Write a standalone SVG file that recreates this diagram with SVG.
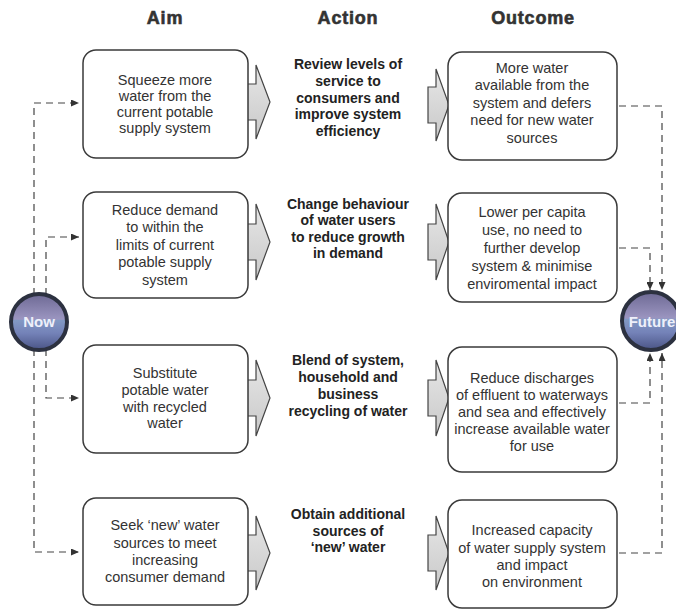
<svg xmlns="http://www.w3.org/2000/svg" width="676" height="610" viewBox="0 0 676 610">
<defs>
<style>
.hdr{font-family:"Liberation Sans",Arial,sans-serif;font-weight:bold;font-size:18px;fill:#333;stroke:#333;stroke-width:0.6;text-anchor:middle;letter-spacing:0.8px}
.box{fill:#fff;stroke:#3a3a3a;stroke-width:1.5}
.t{font-family:"Liberation Sans",Arial,sans-serif;font-size:14.5px;fill:#333;text-anchor:middle}
.a{font-family:"Liberation Sans",Arial,sans-serif;font-weight:bold;font-size:14px;fill:#222;text-anchor:middle}
.arr{fill:url(#ag);stroke:#444;stroke-width:1.2;stroke-linejoin:miter}
.dash{fill:none;stroke:#444;stroke-width:1.2;stroke-dasharray:7 5}
.circ{fill:url(#cg);stroke:#2c3140;stroke-width:4}
.ct{font-family:"Liberation Sans",Arial,sans-serif;font-weight:bold;font-size:15px;fill:#eef0fa;text-anchor:middle}
</style>
<linearGradient id="ag" x1="0" y1="0" x2="0" y2="1">
<stop offset="0" stop-color="#e6e6e6"/>
<stop offset="1" stop-color="#c9c9c9"/>
</linearGradient>
<linearGradient id="cg" x1="0" y1="0" x2="0" y2="1">
<stop offset="0" stop-color="#6d6994"/>
<stop offset="0.45" stop-color="#9b95c0"/>
<stop offset="0.47" stop-color="#8299c4"/>
<stop offset="0.7" stop-color="#7482b8"/>
<stop offset="1" stop-color="#4a5485"/>
</linearGradient>
<marker id="ah" markerWidth="9" markerHeight="7" refX="8" refY="3.5" orient="auto" markerUnits="userSpaceOnUse">
<path d="M0,0 L8,3.5 L0,7 z" fill="#333"/>
</marker>
</defs>
<rect width="676" height="610" fill="#fff"/>

<g id="headers">
<text class="hdr" x="165" y="24">Aim</text>
<text class="hdr" x="348" y="24">Action</text>
<text class="hdr" x="533" y="24">Outcome</text>
</g>

<g id="connectors">
<path class="dash" d="M34,295 V103 H79" marker-end="url(#ah)"/>
<path class="dash" d="M46,295 V237 H79" marker-end="url(#ah)"/>
<path class="dash" d="M46,349 V398 H79" marker-end="url(#ah)"/>
<path class="dash" d="M34,349 V552 H79" marker-end="url(#ah)"/>
<path class="dash" d="M619,106 H662 V290" marker-end="url(#ah)"/>
<path class="dash" d="M619,248 H650 V290" marker-end="url(#ah)"/>
<path class="dash" d="M619,403 H650 V353" marker-end="url(#ah)"/>
<path class="dash" d="M619,553 H662 V353" marker-end="url(#ah)"/>
<path class="arr" d="M248,84 H256 V65 L270,102 L256,139 V120 H248"/>
<path class="arr" d="M248,224 H256 V204 L270,242 L256,280 V260 H248"/>
<path class="arr" d="M248,380 H256 V360 L270,398 L256,436 V416 H248"/>
<path class="arr" d="M248,535 H256 V516 L270,553 L256,590 V571 H248"/>
<path class="arr" d="M428,87 H436 V69 L449,105 L436,141 V123 H428 Z"/>
<path class="arr" d="M428,224 H436 V204 L449,242 L436,280 V260 H428 Z"/>
<path class="arr" d="M428,380 H436 V360 L449,398 L436,436 V416 H428 Z"/>
<path class="arr" d="M428,535 H436 V516 L449,553 L436,590 V571 H428 Z"/>
</g>

<g id="now">
<circle class="circ" cx="39" cy="322" r="28"/>
<text class="ct" x="39" y="327">Now</text>
</g>
<g id="future">
<circle class="circ" cx="651" cy="321" r="29"/>
<text class="ct" x="652" y="327">Future</text>
</g>

<g id="aim1">
<rect class="box" x="83" y="50" width="165" height="108" rx="13"/>
<text class="t" x="165" y="85">Squeeze more</text>
<text class="t" x="165" y="101">water from the</text>
<text class="t" x="165" y="117">current potable</text>
<text class="t" x="165" y="133">supply system</text>
</g>
<g id="aim2">
<rect class="box" x="83" y="192" width="165" height="106" rx="13"/>
<text class="t" x="165" y="215">Reduce demand</text>
<text class="t" x="165" y="232">to within the</text>
<text class="t" x="165" y="250">limits of current</text>
<text class="t" x="165" y="267">potable supply</text>
<text class="t" x="165" y="285">system</text>
</g>
<g id="aim3">
<rect class="box" x="83" y="345" width="165" height="108" rx="13"/>
<text class="t" x="165" y="378">Substitute</text>
<text class="t" x="165" y="395">potable water</text>
<text class="t" x="165" y="412">with recycled</text>
<text class="t" x="165" y="428">water</text>
</g>
<g id="aim4">
<rect class="box" x="83" y="498" width="165" height="107" rx="13"/>
<text class="t" x="165" y="530">Seek ‘new’ water</text>
<text class="t" x="165" y="548">sources to meet</text>
<text class="t" x="165" y="565">increasing</text>
<text class="t" x="165" y="582">consumer demand</text>
</g>

<g id="action1">
<text class="a" x="348" y="69">Review levels of</text>
<text class="a" x="348" y="86">service to</text>
<text class="a" x="348" y="103">consumers and</text>
<text class="a" x="348" y="119">improve system</text>
<text class="a" x="348" y="136">efficiency</text>
</g>
<g id="action2">
<text class="a" x="348" y="209">Change behaviour</text>
<text class="a" x="348" y="225">of water users</text>
<text class="a" x="348" y="242">to reduce growth</text>
<text class="a" x="348" y="258">in demand</text>
</g>
<g id="action3">
<text class="a" x="348" y="365">Blend of system,</text>
<text class="a" x="348" y="382">household and</text>
<text class="a" x="348" y="399">business</text>
<text class="a" x="348" y="416">recycling of water</text>
</g>
<g id="action4">
<text class="a" x="348" y="519">Obtain additional</text>
<text class="a" x="348" y="536">sources of</text>
<text class="a" x="348" y="552">‘new’ water</text>
</g>

<g id="outcome1">
<rect class="box" x="448" y="52" width="169" height="108" rx="14"/>
<text class="t" x="532" y="73">More water</text>
<text class="t" x="532" y="90">available from the</text>
<text class="t" x="532" y="108">system and defers</text>
<text class="t" x="532" y="125">need for new water</text>
<text class="t" x="532" y="143">sources</text>
</g>
<g id="outcome2">
<rect class="box" x="448" y="193" width="169" height="109" rx="14"/>
<text class="t" x="532" y="217">Lower per capita</text>
<text class="t" x="532" y="235">use, no need to</text>
<text class="t" x="532" y="253">further develop</text>
<text class="t" x="532" y="271">system &amp; minimise</text>
<text class="t" x="532" y="289">enviromental impact</text>
</g>
<g id="outcome3">
<rect class="box" x="448" y="347" width="169" height="125" rx="14"/>
<text class="t" x="532" y="383">Reduce discharges</text>
<text class="t" x="532" y="400">of effluent to waterways</text>
<text class="t" x="532" y="417">and sea and effectively</text>
<text class="t" x="532" y="434">increase available water</text>
<text class="t" x="532" y="451">for use</text>
</g>
<g id="outcome4">
<rect class="box" x="448" y="500" width="169" height="108" rx="14"/>
<text class="t" x="532" y="535">Increased capacity</text>
<text class="t" x="532" y="553">of water supply system</text>
<text class="t" x="532" y="570">and impact</text>
<text class="t" x="532" y="587">on environment</text>
</g>
</svg>
